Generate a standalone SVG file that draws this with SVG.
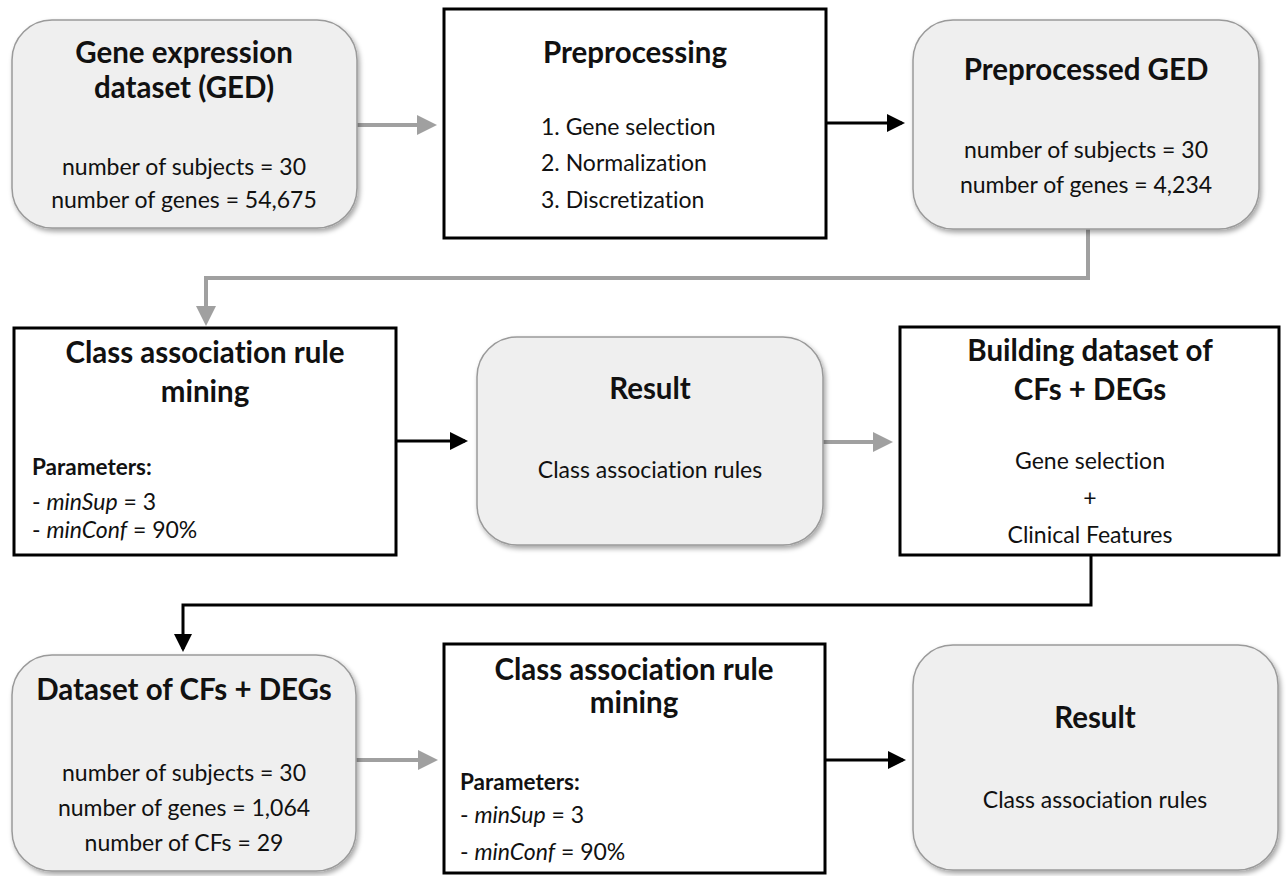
<svg xmlns="http://www.w3.org/2000/svg" width="1286" height="876" viewBox="0 0 1286 876">
<style>
text{font-variant-ligatures:none}
.rnd{fill:#efefef;stroke:#9a9a9a;stroke-width:1.5;filter:url(#sh)}
.box{fill:#fff;stroke:#000;stroke-width:3}
.t{font-family:Lato,"Liberation Sans",sans-serif;font-weight:bold;font-size:29.5px;fill:#111;text-anchor:middle}
.b{font-family:Lato,"Liberation Sans",sans-serif;font-size:23px;fill:#111;text-anchor:middle}
.l{text-anchor:start}
.p{font-family:Lato,"Liberation Sans",sans-serif;font-weight:bold;font-size:22.5px;fill:#111}
.g{fill:none;stroke:#a0a0a0;stroke-width:4}
.k{fill:none;stroke:#000;stroke-width:3}
</style>
<defs>
<filter id="sh" x="-10%" y="-10%" width="125%" height="125%">
<feDropShadow dx="2" dy="3" stdDeviation="2.5" flood-color="#000" flood-opacity="0.35"/>
</filter>
<marker id="ag" markerWidth="5" markerHeight="5" refX="4" refY="2.5" orient="auto" markerUnits="strokeWidth">
<path d="M0,0 L5,2.5 L0,5 Z" fill="#a0a0a0"/>
</marker>
<marker id="ak" markerWidth="6" markerHeight="6" refX="5" refY="3" orient="auto" markerUnits="strokeWidth">
<path d="M0,0 L6,3 L0,6 Z" fill="#000"/>
</marker>
</defs>
<rect width="1286" height="876" fill="#fff"/>

<g id="connectors">
<path class="g" d="M357,125 H433" marker-end="url(#ag)"/>
<path class="k" d="M826,123 H902" marker-end="url(#ak)"/>
<path class="g" d="M1088,229 V278 H206 V322" marker-end="url(#ag)"/>
<path class="k" d="M396,441 H465" marker-end="url(#ak)"/>
<path class="g" d="M823,442 H889" marker-end="url(#ag)"/>
<path class="k" d="M1091,555 V605 H183 V649" marker-end="url(#ak)"/>
<path class="g" d="M356,760 H434" marker-end="url(#ag)"/>
<path class="k" d="M825,760 H903" marker-end="url(#ak)"/>
</g>

<g id="ged">
<rect class="rnd" x="12" y="20" width="345" height="208" rx="40"/>
<text class="t" x="184" y="63">Gene expression</text>
<text class="t" x="184" y="98">dataset (GED)</text>
<text class="b" x="184" y="175">number of subjects = 30</text>
<text class="b" x="184" y="208">number of genes = 54,675</text>
</g>

<g id="preprocessing">
<rect class="box" x="444" y="9" width="382" height="229"/>
<text class="t" x="635" y="63">Preprocessing</text>
<text class="b l" x="541" y="135">1. Gene selection</text>
<text class="b l" x="541" y="171">2. Normalization</text>
<text class="b l" x="541" y="208">3. Discretization</text>
</g>

<g id="preprocessed">
<rect class="rnd" x="913" y="20" width="346" height="209" rx="40"/>
<text class="t" x="1086" y="80">Preprocessed GED</text>
<text class="b" x="1086" y="158">number of subjects = 30</text>
<text class="b" x="1086" y="193">number of genes = 4,234</text>
</g>

<g id="carm1">
<rect class="box" x="14" y="328" width="382" height="227"/>
<text class="t" x="205" y="363">Class association rule</text>
<text class="t" x="205" y="402">mining</text>
<text class="p" x="32" y="475">Parameters:</text>
<text class="b l" x="32" y="510">- <tspan font-style="italic">minSup</tspan> = 3</text>
<text class="b l" x="32" y="538">- <tspan font-style="italic">minConf</tspan> = 90%</text>
</g>

<g id="result1">
<rect class="rnd" x="477" y="337" width="346" height="208" rx="40"/>
<text class="t" x="650" y="399">Result</text>
<text class="b" x="650" y="478">Class association rules</text>
</g>

<g id="building">
<rect class="box" x="900" y="327" width="379" height="228"/>
<text class="t" x="1090" y="361">Building dataset of</text>
<text class="t" x="1090" y="400">CFs + DEGs</text>
<text class="b" x="1090" y="469">Gene selection</text>
<text class="b" x="1090" y="506">+</text>
<text class="b" x="1090" y="543">Clinical Features</text>
</g>

<g id="dataset">
<rect class="rnd" x="12" y="655" width="344" height="216" rx="40"/>
<text class="t" x="184" y="700">Dataset of CFs + DEGs</text>
<text class="b" x="184" y="781">number of subjects = 30</text>
<text class="b" x="184" y="816">number of genes = 1,064</text>
<text class="b" x="184" y="851">number of CFs = 29</text>
</g>

<g id="carm2">
<rect class="box" x="444" y="644" width="381" height="229"/>
<text class="t" x="634" y="680">Class association rule</text>
<text class="t" x="634" y="713">mining</text>
<text class="p" x="460" y="790">Parameters:</text>
<text class="b l" x="460" y="823">- <tspan font-style="italic">minSup</tspan> = 3</text>
<text class="b l" x="460" y="860">- <tspan font-style="italic">minConf</tspan> = 90%</text>
</g>

<g id="result2">
<rect class="rnd" x="913" y="645" width="365" height="225" rx="40"/>
<text class="t" x="1095" y="728">Result</text>
<text class="b" x="1095" y="808">Class association rules</text>
</g>
</svg>
